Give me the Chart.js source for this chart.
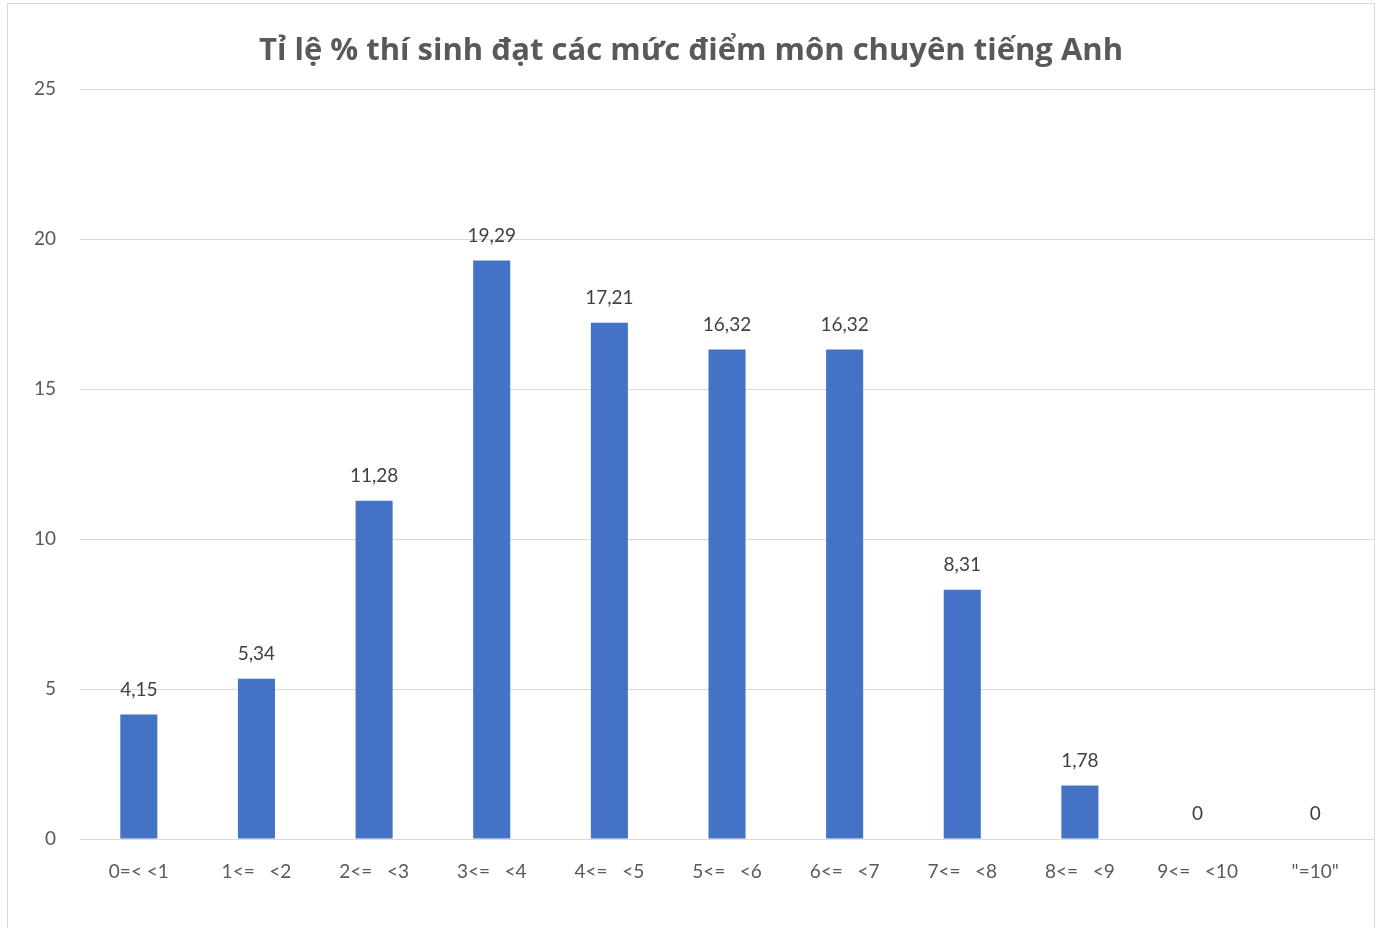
<!DOCTYPE html>
<html lang="vi">
<head>
<meta charset="UTF-8">
<title>Tỉ lệ % thí sinh</title>
<script src="https://cdn.jsdelivr.net/npm/chart.js"></script>
<style>
    body { margin: 0; background: #fff; }
    .khung {
        position: absolute;
        left: 7px;
        top: 3px;
        width: 1366px;
        height: 940px;
        border: 1px solid #d9d9d9;
        background: #fff;
    }
</style>
</head>
<body>
<div class="khung">
    <canvas id="bieuDo" width="1366" height="924"></canvas>
</div>

<script>
    // du lieu
    const mucDiem = ['0=< <1', '1<=   <2', '2<=   <3', '3<=   <4', '4<=   <5', '5<=   <6',
        '6<=   <7', '7<=   <8', '8<=   <9', '9<=   <10', '"=10"'];
    const tiLe = [4.15, 5.34, 11.28, 19.29, 17.21, 16.32, 16.32, 8.31, 1.78, 0, 0];
    const mocTruc = [0, 5, 10, 15, 20, 25];

    const phongChu = 'Lato, "Open Sans", sans-serif';

    // ve nhan so lieu tren moi cot
    const nhanCot = {
        id: 'nhanCot',
        afterDatasetsDraw(chart) {
            const ctx = chart.ctx;
            const meta = chart.getDatasetMeta(0);
            ctx.save();
            ctx.font = '19px ' + phongChu;
            ctx.fillStyle = '#404040';
            ctx.textAlign = 'center';
            ctx.textBaseline = 'middle';
            meta.data.forEach((cot, i) => {
                const txt = String(tiLe[i]).replace('.', ',');
                ctx.fillText(txt, cot.x, cot.y - 25);
            });
            ctx.restore();
        }
    };

    new Chart(document.getElementById('bieuDo'), {
        type: 'bar',
        data: {
            labels: mucDiem,
            datasets: [{
                data: tiLe,
                backgroundColor: '#4472c4',
                borderWidth: 0,
                barPercentage: 0.315,
                categoryPercentage: 1
            }]
        },
        options: {
            responsive: false,
            animation: false,
            layout: { padding: 0 },
            plugins: {
                legend: { display: false },
                tooltip: { enabled: false },
                title: {
                    display: true,
                    text: 'Tỉ lệ % thí sinh đạt các mức điểm môn chuyên tiếng Anh',
                    color: '#595959',
                    font: { family: '"Open Sans", sans-serif', size: 31, weight: 'bold' },
                    padding: { top: 29, bottom: 19 }
                }
            },
            scales: {
                x: {
                    grid: { display: false, drawTicks: false },
                    border: { color: '#d9d9d9', width: 1 },
                    ticks: {
                        color: '#595959',
                        font: { family: phongChu, size: 19 },
                        padding: 21,
                        maxRotation: 0,
                        autoSkip: false
                    },
                    afterFit(s) { s.height = 89; }
                },
                y: {
                    min: 0,
                    max: 25,
                    afterBuildTicks(s) { s.ticks = mocTruc.map(v => ({ value: v })); },
                    grid: { color: '#d9d9d9', lineWidth: 1, drawTicks: false },
                    border: { display: false },
                    ticks: {
                        color: '#595959',
                        font: { family: phongChu, size: 19 },
                        padding: 24
                    },
                    afterFit(s) { s.width = 72; }
                }
            }
        },
        plugins: [nhanCot]
    });
</script>
</body>
</html>
